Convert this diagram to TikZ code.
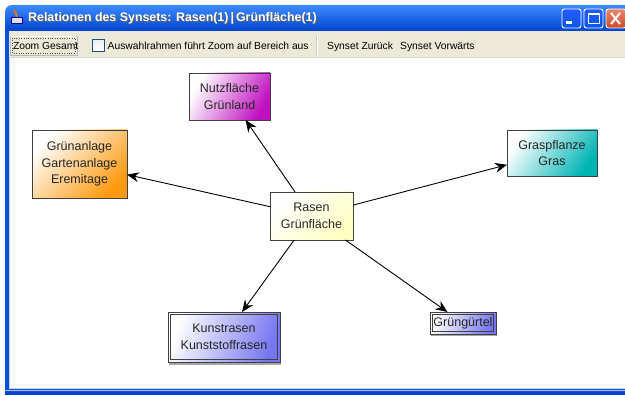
\documentclass[tikz,border=0pt]{standalone}
\usepackage{fontspec}
\setmainfont{Liberation Sans}
\usetikzlibrary{arrows.meta}

\definecolor{xptop}{HTML}{3D8BFF}
\definecolor{xpmid}{HTML}{0858E8}
\definecolor{xpbot}{HTML}{0043CF}
\definecolor{xpframe}{HTML}{0052DE}
\definecolor{xpface}{HTML}{ECE9D8}
\definecolor{boxline}{HTML}{404040}
\definecolor{magentabox}{HTML}{C010C0}
\definecolor{orangebox}{HTML}{FF9A10}
\definecolor{tealbox}{HTML}{00B4B4}
\definecolor{bluebox}{HTML}{7676F2}
\definecolor{yellowbox}{HTML}{FFFFC4}
\definecolor{closered}{HTML}{E2542E}
\definecolor{checkblue}{HTML}{1C5180}

\tikzset{
  concept/.style={draw=boxline, line width=0.8pt, align=center, text=black!85,
    font=\fontsize{12.5}{16.5}\selectfont, inner sep=0pt, outer sep=0pt},
  innerframe/.style={draw=boxline, line width=0.7pt},
  relation/.style={draw=black, line width=0.9pt,
    -{Stealth[length=12pt,width=10pt,inset=4pt]}},
  tooltext/.style={font=\fontsize{10.3}{12}\selectfont, text=black, inner sep=0pt, anchor=base west},
  titlefont/.style={font=\bfseries\fontsize{12.4}{14}\selectfont, inner sep=0pt, anchor=base west},
  titlebtn/.style={draw=white, line width=0.9pt, rounded corners=2.5pt}
}

\begin{document}
\begin{tikzpicture}[x=1pt,y=-1pt]
\useasboundingbox (0,0) rectangle (625,396);
\fill[white] (0,0) rectangle (625,396);

% window frame
\fill[xpframe] (5,28) rectangle (625,395);
\fill[xpbot] (5,392) rectangle (625,395);
\shade[top color=xptop, middle color=xpmid, bottom color=xpbot]
  (5,31) [rounded corners=7pt] -- (5,5) [sharp corners] -- (625,5) -- (625,31) -- cycle;

% window icon
\fill[orange!90!red] (13,11) .. controls (17,13) and (13,15) .. (17,17) -- (18,16)
  .. controls (15,14) and (19,12) .. (14,10) -- cycle;
\fill[white!75!gray] (11,17) rectangle (22,23);
\draw[blue!60!black, line width=0.6pt] (11,17) rectangle (22,23);

% title
\node[titlefont, text=black!60] at (29,23) {Relationen des Synsets: Rasen(1)\,|\,Grünfläche(1)};
\node[titlefont, text=white] (title) at (28,22) {Relationen des Synsets: Rasen(1)\,|\,Grünfläche(1)};

% title bar buttons
\shade[titlebtn, top color=blue!35!xptop, bottom color=xpmid] (562,9) rectangle (581,28);
\fill[white] (566,21) rectangle (572,24);
\shade[titlebtn, top color=blue!35!xptop, bottom color=xpmid] (584,9) rectangle (603,28);
\draw[white, line width=1pt] (588,14) rectangle (599,24);
\draw[white, line width=2pt] (588,14) -- (599,14);
\shade[titlebtn, top color=closered!70!white, bottom color=closered!90!black] (606,9) rectangle (626,28);
\draw[white, line width=2pt] (611,13) -- (620,24) (620,13) -- (611,24);

% toolbar
\fill[xpface] (9,31) rectangle (625,57);
\draw[white!70!gray, line width=0.6pt] (9,57.3) -- (625,57.3);

\draw[white!45!gray, line width=0.7pt] (10,36) rectangle (77,55);
\draw[white, line width=0.6pt] (10.8,54) -- (10.8,36.8) -- (76,36.8);
\draw[black!70, line width=0.4pt, dotted] (12,38) rectangle (75,53);
\node[tooltext] (zoom) at (12.8,50) {Zoom Gesamt};

\shade[top color=white!85!gray, bottom color=white] (92,39) rectangle (104,51);
\draw[checkblue, line width=0.8pt] (92,39) rectangle (104,51);
\node[tooltext] (auswahl) at (107.5,50) {Auswahlrahmen führt Zoom auf Bereich aus};

\draw[white!60!gray, line width=0.7pt] (316,35) -- (316,55);
\draw[white, line width=0.7pt] (317,35) -- (317,55);
\node[tooltext] (zurueck) at (327,50) {Synset Zurück};
\node[tooltext] (vorwaerts) at (400,50) {Synset Vorwärts};

% drawing area
\fill[white] (9,58) rectangle (625,388);
\draw[white!65!gray, line width=0.6pt] (9.3,58) -- (9.3,388.3) -- (625,388.3);
\draw[blue!30!white, line width=0.8pt] (5,390) -- (625,390);

% concepts
\node[concept, minimum width=81pt, minimum height=47pt,
  top color=white, bottom color=magentabox, shading angle=60]
  (nutz) at (229.5,96.5) {Nutzfläche\\Grünland};
\node[concept, minimum width=95pt, minimum height=68pt,
  top color=white, bottom color=orangebox, shading angle=45]
  (anlage) at (79.5,164) {Grünanlage\\Gartenanlage\\Eremitage};
\node[concept, minimum width=90pt, minimum height=46pt,
  top color=white, bottom color=tealbox, shading angle=55]
  (gras) at (552,153) {Graspflanze\\Gras};
\node[concept, minimum width=83pt, minimum height=48pt,
  top color=white, bottom color=yellowbox, shading angle=45]
  (rasen) at (311.5,216) {Rasen\\Grünfläche};

\fill[gray!70] (168.5,362) rectangle (280.5,364.5);
\node[concept, minimum width=112pt, minimum height=50pt,
  top color=white, bottom color=bluebox, shading angle=70]
  (kunst) at (224,337) {Kunstrasen\\Kunststoffrasen};
\draw[innerframe] ([shift={(2.2,2.2)}]kunst.north west) rectangle ([shift={(-2.2,-2.2)}]kunst.south east);

\fill[gray!70] (430.5,334) rectangle (496.5,336);
\node[concept, minimum width=66pt, minimum height=22pt,
  top color=white, bottom color=bluebox, shading angle=70]
  (guertel) at (463,323) {Grüngürtel};
\draw[innerframe] ([shift={(2.2,2.2)}]guertel.north west) rectangle ([shift={(-2.2,-2.2)}]guertel.south east);

% relations
\draw[relation] (rasen) -- (nutz);
\draw[relation] (rasen) -- (anlage);
\draw[relation] (rasen) -- (gras);
\draw[relation] (rasen) -- (kunst);
\draw[relation] (rasen) -- (guertel);
\end{tikzpicture}
\end{document}
